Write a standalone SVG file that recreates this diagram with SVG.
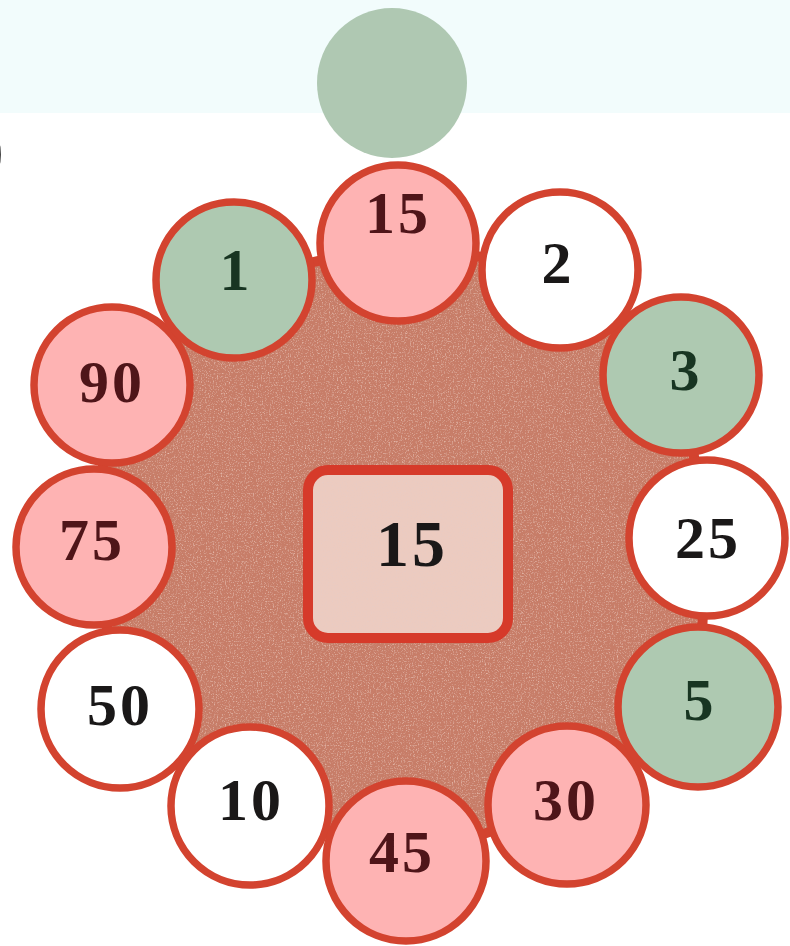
<svg xmlns="http://www.w3.org/2000/svg" width="790" height="946" viewBox="0 0 790 946">
<defs>
<filter id="grain" x="0" y="0" width="100%" height="100%">
<feTurbulence type="fractalNoise" baseFrequency="0.75" numOctaves="2" seed="4" result="n"/>
<feColorMatrix in="n" type="matrix" values="0 0 0 0 0.96  0 0 0 0 0.72  0 0 0 0 0.62  0 0 0 1.5 -0.78" result="s"/>
<feComposite in="s" in2="SourceGraphic" operator="in" result="t"/>
<feMerge><feMergeNode in="SourceGraphic"/><feMergeNode in="t"/></feMerge>
</filter>
<filter id="grain2" x="0" y="0" width="100%" height="100%">
<feTurbulence type="fractalNoise" baseFrequency="0.8" numOctaves="2" seed="7" result="n"/>
<feColorMatrix in="n" type="matrix" values="0 0 0 0 0.75  0 0 0 0 0.62  0 0 0 0 0.6  0 0 0 1.3 -0.7" result="s"/>
<feComposite in="s" in2="SourceGraphic" operator="in" result="t"/>
<feMerge><feMergeNode in="SourceGraphic"/><feMergeNode in="t"/></feMerge>
</filter>
</defs>
<style>
.c{stroke:#d3432f;stroke-width:7.5}
.pink{fill:#feb3b3}
.green{fill:#aec9b1}
.white{fill:#ffffff}
.t{font-family:"Liberation Serif","DejaVu Serif",serif;font-weight:bold;font-size:60px;text-anchor:middle;dominant-baseline:central;letter-spacing:3px}
.tp{fill:#4f1519}
.tw{fill:#1a1818}
.tg{fill:#183522}
</style>
<rect x="0" y="0" width="790" height="946" fill="#ffffff"/>
<rect x="0" y="0" width="790" height="113" fill="#f2fcfc"/>
<circle cx="392" cy="83" r="75" fill="#afc8b2"/>
<text x="-20" y="172" font-family="Liberation Serif, serif" font-size="72" fill="#111">)</text>
<g id="blob">
<polygon points="398,243 560,270 681,375 707,538 698,707 567,805 406,861 250,806 120,709 94,547 112,385 234,280" fill="#c77d67" filter="url(#grain)"/>
<polygon points="398,243 560,270 681,375 707,538 698,707 567,805 406,861 250,806 120,709 94,547 112,385 234,280" fill="none" stroke="#d3432f" stroke-width="10" stroke-linejoin="round"/>
</g>
<g id="connectors"/>
<g id="center-box">
<rect x="308" y="470" width="200" height="168" rx="20" fill="#eccbc0" filter="url(#grain2)"/>
<rect x="308" y="470" width="200" height="168" rx="20" fill="none" stroke="#d63a2a" stroke-width="10"/>
<text class="t tw" x="412" y="543" style="font-size:66px">15</text>
</g>
<g id="n90"><circle class="c pink" cx="112" cy="385" r="78"/><text class="t tp" x="112" y="382">90</text></g>
<g id="n75"><circle class="c pink" cx="94" cy="547" r="78"/><text class="t tp" x="92" y="540">75</text></g>
<g id="n50"><circle class="c white" cx="120" cy="709" r="79"/><text class="t tw" x="120" y="705">50</text></g>
<g id="n10"><circle class="c white" cx="250" cy="806" r="79"/><text class="t tw" x="251" y="800">10</text></g>
<g id="n45"><circle class="c pink" cx="406" cy="861" r="80"/><text class="t tp" x="402" y="852">45</text></g>
<g id="n30"><circle class="c pink" cx="567" cy="805" r="79"/><text class="t tp" x="566" y="800">30</text></g>
<g id="n5"><circle class="c green" cx="698" cy="707" r="80"/><text class="t tg" x="700" y="700">5</text></g>
<g id="n25"><circle class="c white" cx="707" cy="538" r="78"/><text class="t tw" x="708" y="538">25</text></g>
<g id="n3"><circle class="c green" cx="681" cy="375" r="78"/><text class="t tg" x="686" y="370">3</text></g>
<g id="n2"><circle class="c white" cx="560" cy="270" r="78"/><text class="t tw" x="558" y="263">2</text></g>
<g id="n1"><circle class="c green" cx="234" cy="280" r="78"/><text class="t tg" x="236" y="270">1</text></g>
<g id="n15"><circle class="c pink" cx="398" cy="243" r="78"/><text class="t tp" x="398" y="213">15</text></g>
</svg>
